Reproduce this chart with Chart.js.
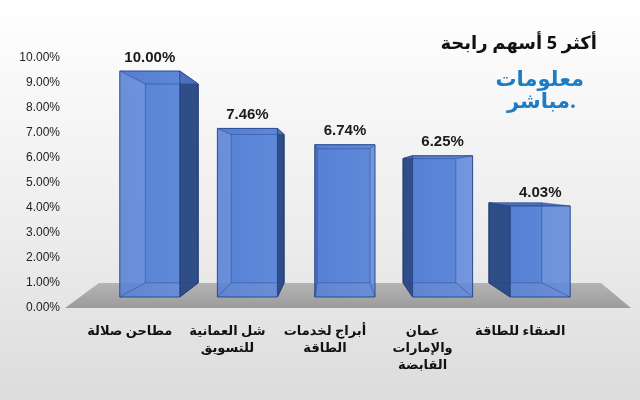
<!DOCTYPE html>
<html>
<head>
<meta charset="utf-8">
<script src="https://cdn.jsdelivr.net/npm/chart.js@4.4.0/dist/chart.umd.min.js"></script>
<style>
  html, body { margin: 0; padding: 0; }
  body { width: 640px; height: 400px; background: linear-gradient(#ffffff, #ececec 60%, #dcdcdc); }
  #wrap { width: 640px; height: 400px; }
</style>
</head>
<body>
<div id="wrap"><canvas id="c"></canvas></div>
<script>
// Data
const companies = [
    ['مطاحن صلالة'],
    ['شل العمانية', 'للتسويق'],
    ['أبراج لخدمات', 'الطاقة'],
    ['عمان', 'والإمارات', 'القابضة'],
    ['العنقاء للطاقة']
];
const gains = [10.00, 7.46, 6.74, 6.25, 4.03];
const chartTitle = 'أكثر 5 أسهم رابحة';

// perspective settings for the fake 3D look
const VP = { x: 333, y: 179 };
const DEPTH = 0.88;
const FRONT_SCALE = 0.904;
const FRONT_LIFT = 11;

function toBack(p) {
    return { x: VP.x + DEPTH * (p.x - VP.x), y: VP.y + DEPTH * (p.y - VP.y) };
}

function poly(ctx, pts) {
    ctx.beginPath();
    ctx.moveTo(pts[0].x, pts[0].y);
    for (let i = 1; i < pts.length; i++) ctx.lineTo(pts[i].x, pts[i].y);
    ctx.closePath();
}

const bars3d = {
    id: 'bars3d',
    beforeDatasetsDraw(chart) {
        const { ctx, chartArea } = chart;
        const y0 = chart.scales.y.getPixelForValue(0);
        const g = ctx.createLinearGradient(0, y0 - 25, 0, y0);
        g.addColorStop(0, '#b4b4b4');
        g.addColorStop(1, '#9c9c9c');
        ctx.save();
        ctx.fillStyle = g;
        poly(ctx, [
            { x: chartArea.left - 2, y: y0 - 25 },
            { x: chartArea.right + 12, y: y0 - 25 },
            { x: chartArea.right + 42, y: y0 },
            { x: chartArea.left - 36, y: y0 }
        ]);
        ctx.fill();
        ctx.restore();
    },
    afterDatasetsDraw(chart) {
        const { ctx } = chart;
        const y0 = chart.scales.y.getPixelForValue(0);
        const meta = chart.getDatasetMeta(0);
        meta.data.forEach((bar, i) => {
            const w = bar.width;
            const fb = y0 - FRONT_LIFT;
            const ft = fb + (bar.y - y0) * FRONT_SCALE;
            const fl = bar.x - w / 2, fr = bar.x + w / 2;
            const F = [{ x: fl, y: ft }, { x: fr, y: ft }, { x: fr, y: fb }, { x: fl, y: fb }];
            const B = F.map(toBack);
            ctx.save();
            ctx.lineWidth = 1;
            // back face
            ctx.fillStyle = '#5a84d2';
            poly(ctx, B); ctx.fill();
            // side faces
            ctx.fillStyle = '#2f4d86';
            ctx.strokeStyle = '#1f3566';
            if (bar.x < VP.x - 3) {
                poly(ctx, [F[1], B[1], B[2], F[2]]); ctx.fill(); ctx.stroke();
            } else if (bar.x > VP.x + 3) {
                poly(ctx, [F[0], B[0], B[3], F[3]]); ctx.fill(); ctx.stroke();
            }
            // top underside
            ctx.fillStyle = '#4a70bb';
            poly(ctx, [F[0], F[1], B[1], B[0]]); ctx.fill();
            // front face, slightly transparent
            const g = ctx.createLinearGradient(fl, 0, fr, 0);
            g.addColorStop(0, 'rgba(86,128,212,0.88)');
            g.addColorStop(1, 'rgba(96,138,220,0.88)');
            ctx.fillStyle = g;
            poly(ctx, F); ctx.fill();
            ctx.strokeStyle = '#2a4a8e';
            ctx.stroke();
            // back edges seen through
            ctx.strokeStyle = 'rgba(40,70,140,0.5)';
            poly(ctx, B); ctx.stroke();
            ctx.beginPath();
            for (let k = 0; k < 4; k++) { ctx.moveTo(F[k].x, F[k].y); ctx.lineTo(B[k].x, B[k].y); }
            ctx.stroke();
            // value label
            ctx.fillStyle = '#1a1a1a';
            ctx.font = 'bold 15px "Liberation Sans", Arial';
            ctx.textAlign = 'center';
            ctx.textBaseline = 'bottom';
            ctx.fillText(gains[i].toFixed(2) + '%', bar.x, ft - 6);
            ctx.restore();
        });
        // title and logo
        ctx.save();
        ctx.fillStyle = '#111';
        ctx.textAlign = 'right';
        ctx.textBaseline = 'middle';
        ctx.font = 'bold 18px "Noto Sans", "DejaVu Sans"';
        ctx.fillText(chartTitle, 597, 44);
        ctx.fillStyle = '#1c7cc4';
        ctx.font = 'bold 21px "Noto Sans", "DejaVu Sans"';
        ctx.fillText('معلومات', 584, 80);
        ctx.fillText('مباشر.', 576, 102);
        ctx.restore();
    }
};

new Chart(document.getElementById('c'), {
    type: 'bar',
    data: {
        labels: companies,
        datasets: [{
            data: gains,
            backgroundColor: 'rgba(0,0,0,0)',
            barPercentage: 0.615,
            categoryPercentage: 1
        }]
    },
    options: {
        responsive: true,
        maintainAspectRatio: false,
        animation: false,
        layout: { padding: { top: 58, right: 51, left: 0 } },
        plugins: { legend: { display: false }, tooltip: { enabled: false } },
        scales: {
            y: {
                min: 0, max: 10,
                ticks: {
                    stepSize: 1,
                    padding: 33,
                    color: '#222',
                    font: { size: 12, family: '"Liberation Sans", Arial' },
                    callback: v => v.toFixed(2) + '%'
                },
                grid: { display: false },
                border: { display: false },
                afterFit(s) { s.width = 101; }
            },
            x: {
                ticks: {
                    color: '#111',
                    labelOffset: -20,
                    padding: 7,
                    maxRotation: 0,
                    font: { size: 13, weight: 'bold', family: '"Noto Sans", "DejaVu Sans"', lineHeight: 1.3 }
                },
                grid: { display: false },
                border: { display: false },
                afterFit(s) { s.height = 92; }
            }
        }
    },
    plugins: [bars3d]
});
</script>
</body>
</html>
